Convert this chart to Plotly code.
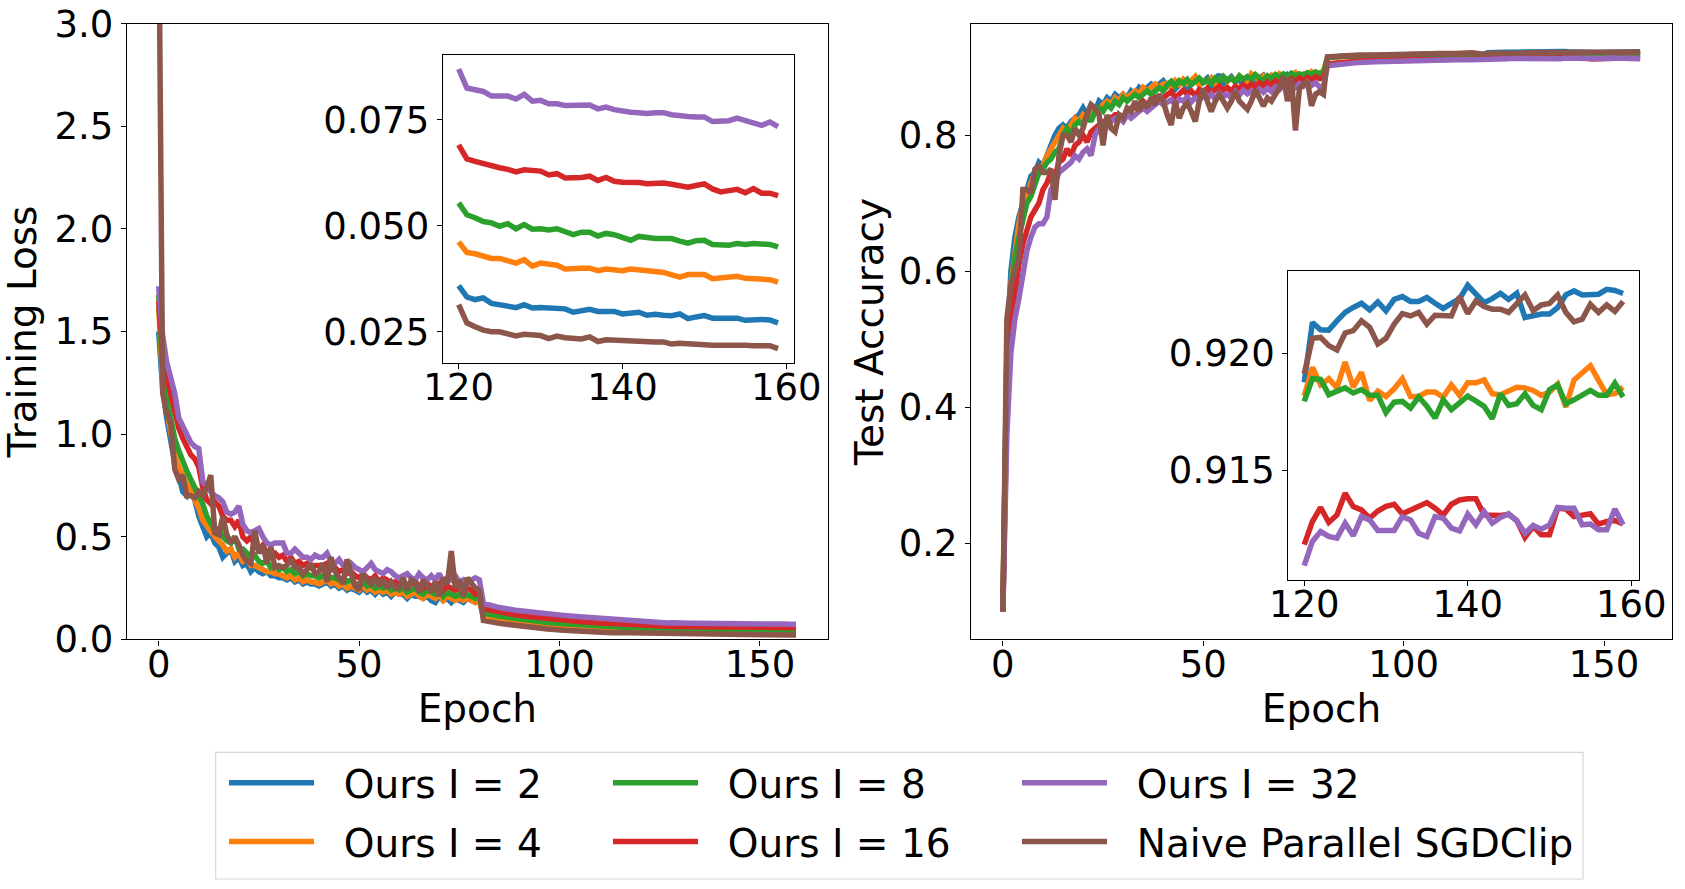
import plotly.graph_objects as go

# epochs: every epoch up to 81, sparse through the smooth stretch, every epoch in the zoomed window
epochs = list(range(0, 82)) + [85, 89, 93, 97, 101, 105, 109, 113, 117] + list(range(120, 160))

names = ["Ours I = 2", "Ours I = 4", "Ours I = 8", "Ours I = 16", "Ours I = 32", "Naive Parallel SGDClip"]
colors = ["#1f77b4", "#ff7f0e", "#2ca02c", "#d62728", "#9467bd", "#8c564b"]

# ---- training loss ----
loss_i2 = [1.50, 1.22, 1.08, 0.95, 0.86, 0.80, 0.72, 0.70, 0.74, 0.68, 0.60,
           0.55, 0.50, 0.52, 0.47, 0.45, 0.40, 0.42, 0.44, 0.38, 0.40,
           0.36, 0.37, 0.33, 0.35, 0.33, 0.32, 0.33, 0.31, 0.31, 0.30,
           0.30, 0.29, 0.30, 0.28, 0.29, 0.27, 0.28, 0.27, 0.27, 0.26,
           0.27, 0.28, 0.26, 0.27, 0.25, 0.26, 0.24, 0.25, 0.24, 0.23,
           0.25, 0.23, 0.24, 0.22, 0.24, 0.22, 0.23, 0.21, 0.23, 0.22,
           0.22, 0.20, 0.22, 0.21, 0.21, 0.20, 0.21, 0.19, 0.18, 0.21,
           0.19, 0.20, 0.18, 0.20, 0.19, 0.18, 0.20, 0.19, 0.18, 0.19,
           0.112, 0.094, 0.081, 0.070, 0.062, 0.055, 0.049, 0.044, 0.040, 0.038,
           0.0359, 0.0332, 0.0326, 0.0330, 0.0317, 0.0313, 0.0310, 0.0307, 0.0314, 0.0306,
           0.0307, 0.0307, 0.0306, 0.0304, 0.0296, 0.0300, 0.0303, 0.0298, 0.0299, 0.0298,
           0.0292, 0.0293, 0.0296, 0.0289, 0.0291, 0.0289, 0.0288, 0.0292, 0.0281, 0.0285,
           0.0288, 0.0282, 0.0282, 0.0282, 0.0282, 0.0277, 0.0279, 0.0279, 0.0278, 0.0271]
loss_i4 = [1.62, 1.25, 1.12, 1.00, 0.90, 0.84, 0.80, 0.75, 0.72, 0.68, 0.64,
           0.58, 0.55, 0.52, 0.50, 0.48, 0.46, 0.43, 0.44, 0.40, 0.42,
           0.38, 0.39, 0.36, 0.36, 0.35, 0.34, 0.33, 0.33, 0.32, 0.32,
           0.31, 0.30, 0.31, 0.29, 0.30, 0.28, 0.29, 0.28, 0.28, 0.27,
           0.28, 0.29, 0.27, 0.28, 0.26, 0.27, 0.25, 0.26, 0.25, 0.24,
           0.26, 0.24, 0.25, 0.23, 0.24, 0.23, 0.24, 0.22, 0.23, 0.22,
           0.23, 0.21, 0.22, 0.23, 0.21, 0.20, 0.22, 0.21, 0.20, 0.22,
           0.19, 0.21, 0.20, 0.19, 0.20, 0.19, 0.20, 0.19, 0.18, 0.19,
           0.115, 0.099, 0.087, 0.078, 0.071, 0.065, 0.059, 0.055, 0.051, 0.048,
           0.0462, 0.0437, 0.0434, 0.0430, 0.0423, 0.0423, 0.0417, 0.0412, 0.0420, 0.0405,
           0.0412, 0.0409, 0.0407, 0.0398, 0.0400, 0.0400, 0.0400, 0.0394, 0.0398, 0.0395,
           0.0394, 0.0398, 0.0395, 0.0393, 0.0392, 0.0390, 0.0386, 0.0379, 0.0385, 0.0384,
           0.0385, 0.0375, 0.0376, 0.0377, 0.0381, 0.0376, 0.0376, 0.0376, 0.0373, 0.0367]
loss_i8 = [1.68, 1.30, 1.18, 1.08, 0.98, 0.92, 0.86, 0.82, 0.78, 0.74, 0.70,
           0.66, 0.60, 0.56, 0.53, 0.54, 0.50, 0.48, 0.47, 0.50, 0.44,
           0.44, 0.42, 0.40, 0.41, 0.38, 0.37, 0.38, 0.35, 0.36, 0.34,
           0.35, 0.33, 0.34, 0.32, 0.33, 0.31, 0.32, 0.31, 0.31, 0.30,
           0.31, 0.32, 0.30, 0.30, 0.29, 0.30, 0.28, 0.29, 0.27, 0.27,
           0.28, 0.26, 0.27, 0.25, 0.26, 0.25, 0.26, 0.24, 0.25, 0.24,
           0.25, 0.23, 0.24, 0.25, 0.23, 0.22, 0.24, 0.23, 0.22, 0.24,
           0.21, 0.23, 0.22, 0.21, 0.22, 0.21, 0.22, 0.21, 0.20, 0.21,
           0.128, 0.112, 0.100, 0.090, 0.082, 0.076, 0.070, 0.065, 0.061, 0.058,
           0.0554, 0.0526, 0.0519, 0.0510, 0.0507, 0.0499, 0.0505, 0.0493, 0.0503, 0.0492,
           0.0493, 0.0490, 0.0493, 0.0485, 0.0479, 0.0485, 0.0485, 0.0476, 0.0482, 0.0479,
           0.0471, 0.0466, 0.0475, 0.0472, 0.0470, 0.0470, 0.0470, 0.0464, 0.0459, 0.0465,
           0.0466, 0.0456, 0.0455, 0.0454, 0.0458, 0.0456, 0.0458, 0.0458, 0.0456, 0.0450]
loss_i16 = [1.65, 1.40, 1.28, 1.20, 1.10, 1.03, 0.98, 0.94, 0.90, 0.88, 0.84,
            0.74, 0.68, 0.66, 0.67, 0.65, 0.60, 0.58, 0.58, 0.55, 0.58,
            0.50, 0.48, 0.50, 0.46, 0.44, 0.46, 0.42, 0.41, 0.42, 0.40,
            0.41, 0.38, 0.40, 0.37, 0.38, 0.36, 0.37, 0.35, 0.36, 0.36,
            0.36, 0.37, 0.34, 0.35, 0.33, 0.34, 0.32, 0.33, 0.31, 0.30,
            0.32, 0.30, 0.29, 0.31, 0.28, 0.30, 0.29, 0.27, 0.28, 0.27,
            0.28, 0.26, 0.27, 0.28, 0.26, 0.25, 0.27, 0.26, 0.25, 0.27,
            0.24, 0.26, 0.25, 0.24, 0.25, 0.23, 0.25, 0.24, 0.22, 0.23,
            0.150, 0.132, 0.120, 0.110, 0.101, 0.094, 0.087, 0.081, 0.076, 0.072,
            0.0691, 0.0658, 0.0652, 0.0646, 0.0640, 0.0637, 0.0633, 0.0627, 0.0632, 0.0629,
            0.0629, 0.0620, 0.0623, 0.0613, 0.0613, 0.0614, 0.0617, 0.0607, 0.0614, 0.0605,
            0.0603, 0.0603, 0.0602, 0.0599, 0.0601, 0.0601, 0.0598, 0.0594, 0.0591, 0.0595,
            0.0599, 0.0587, 0.0580, 0.0583, 0.0586, 0.0578, 0.0588, 0.0577, 0.0577, 0.0571]
loss_i32 = [1.72, 1.48, 1.35, 1.28, 1.20, 1.08, 1.04, 1.00, 0.96, 0.94, 0.93,
            0.77, 0.74, 0.72, 0.70, 0.69, 0.67, 0.62, 0.61, 0.62, 0.65,
            0.56, 0.53, 0.52, 0.53, 0.54, 0.50, 0.47, 0.46, 0.47, 0.47,
            0.47, 0.42, 0.42, 0.44, 0.42, 0.40, 0.40, 0.39, 0.41, 0.40,
            0.40, 0.42, 0.38, 0.37, 0.39, 0.36, 0.35, 0.37, 0.35, 0.34,
            0.33, 0.35, 0.37, 0.34, 0.33, 0.32, 0.34, 0.33, 0.31, 0.30,
            0.31, 0.32, 0.30, 0.29, 0.32, 0.30, 0.29, 0.31, 0.29, 0.32,
            0.28, 0.30, 0.29, 0.31, 0.28, 0.29, 0.27, 0.29, 0.30, 0.29,
            0.175, 0.155, 0.142, 0.132, 0.124, 0.117, 0.110, 0.104, 0.098, 0.092,
            0.0870, 0.0825, 0.0821, 0.0817, 0.0806, 0.0807, 0.0806, 0.0799, 0.0810, 0.0794,
            0.0796, 0.0788, 0.0788, 0.0784, 0.0784, 0.0785, 0.0785, 0.0776, 0.0780, 0.0774,
            0.0770, 0.0768, 0.0767, 0.0765, 0.0767, 0.0767, 0.0762, 0.0759, 0.0758, 0.0757,
            0.0757, 0.0746, 0.0748, 0.0748, 0.0754, 0.0748, 0.0745, 0.0737, 0.0745, 0.0734]
loss_naive = [3.60, 1.20, 1.10, 1.05, 0.83, 0.78, 0.80, 0.70, 0.70, 0.69, 0.72,
              0.70, 0.74, 0.80, 0.52, 0.51, 0.60, 0.51, 0.47, 0.50, 0.46,
              0.41, 0.38, 0.37, 0.53, 0.42, 0.46, 0.37, 0.45, 0.35, 0.36,
              0.35, 0.36, 0.39, 0.35, 0.35, 0.32, 0.34, 0.37, 0.32, 0.33,
              0.37, 0.28, 0.40, 0.33, 0.30, 0.27, 0.39, 0.33, 0.26, 0.24,
              0.32, 0.29, 0.27, 0.30, 0.26, 0.29, 0.25, 0.28, 0.25, 0.25,
              0.30, 0.24, 0.29, 0.28, 0.23, 0.29, 0.26, 0.23, 0.28, 0.21,
              0.30, 0.27, 0.43, 0.25, 0.29, 0.21, 0.30, 0.27, 0.25, 0.24,
              0.092, 0.078, 0.067, 0.058, 0.051, 0.045, 0.040, 0.036, 0.033, 0.032,
              0.0314, 0.0271, 0.0262, 0.0254, 0.0250, 0.0250, 0.0245, 0.0240, 0.0244, 0.0241,
              0.0241, 0.0234, 0.0240, 0.0236, 0.0233, 0.0233, 0.0238, 0.0227, 0.0231, 0.0230,
              0.0228, 0.0226, 0.0225, 0.0226, 0.0226, 0.0226, 0.0221, 0.0223, 0.0221, 0.0221,
              0.0220, 0.0218, 0.0218, 0.0219, 0.0220, 0.0218, 0.0217, 0.0217, 0.0217, 0.0210]

# ---- test accuracy ----
acc_i2 = [0.10, 0.48, 0.60, 0.65, 0.68, 0.70, 0.72, 0.74, 0.745, 0.76, 0.755,
          0.77, 0.79, 0.80, 0.81, 0.815, 0.81, 0.82, 0.825, 0.83, 0.84,
          0.83, 0.845, 0.835, 0.85, 0.845, 0.855, 0.85, 0.86, 0.855, 0.86,
          0.855, 0.865, 0.86, 0.87, 0.865, 0.87, 0.875, 0.87, 0.875, 0.88,
          0.872, 0.878, 0.868, 0.875, 0.880, 0.870, 0.876, 0.882, 0.874, 0.879,
          0.884, 0.872, 0.880, 0.889, 0.876, 0.882, 0.886, 0.878, 0.884, 0.870,
          0.880, 0.886, 0.879, 0.884, 0.888, 0.880, 0.885, 0.878, 0.887, 0.882,
          0.889, 0.884, 0.878, 0.888, 0.883, 0.889, 0.885, 0.890, 0.886, 0.892,
          0.914, 0.916, 0.917, 0.917, 0.918, 0.918, 0.919, 0.919, 0.919, 0.919,
          0.91876, 0.92132, 0.92101, 0.92099, 0.92139, 0.92175, 0.92196, 0.92214, 0.92186, 0.92220,
          0.92182, 0.92231, 0.92243, 0.92222, 0.92222, 0.92239, 0.92214, 0.92192, 0.92214, 0.92234,
          0.92291, 0.92256, 0.92217, 0.92234, 0.92257, 0.92231, 0.92257, 0.92153, 0.92163, 0.92168,
          0.92168, 0.92196, 0.92250, 0.92267, 0.92250, 0.92249, 0.92253, 0.92274, 0.92269, 0.92256]
acc_i4 = [0.10, 0.47, 0.58, 0.63, 0.67, 0.70, 0.71, 0.73, 0.745, 0.75, 0.755,
          0.77, 0.78, 0.79, 0.80, 0.81, 0.805, 0.815, 0.825, 0.82, 0.83,
          0.825, 0.835, 0.84, 0.835, 0.845, 0.85, 0.845, 0.855, 0.85, 0.86,
          0.855, 0.86, 0.865, 0.86, 0.87, 0.865, 0.87, 0.875, 0.87, 0.875,
          0.876, 0.870, 0.880, 0.874, 0.882, 0.876, 0.880, 0.886, 0.874, 0.880,
          0.878, 0.884, 0.876, 0.882, 0.886, 0.879, 0.884, 0.880, 0.887, 0.882,
          0.878, 0.890, 0.884, 0.880, 0.887, 0.883, 0.888, 0.882, 0.890, 0.885,
          0.884, 0.889, 0.892, 0.886, 0.890, 0.887, 0.893, 0.889, 0.891, 0.894,
          0.915, 0.916, 0.917, 0.917, 0.917, 0.918, 0.918, 0.918, 0.918, 0.918,
          0.91817, 0.91940, 0.91865, 0.91891, 0.91852, 0.91962, 0.91855, 0.91919, 0.91798, 0.91838,
          0.91815, 0.91848, 0.91891, 0.91815, 0.91815, 0.91834, 0.91834, 0.91813, 0.91865, 0.91820,
          0.91874, 0.91874, 0.91886, 0.91827, 0.91823, 0.91838, 0.91855, 0.91852, 0.91841, 0.91820,
          0.91834, 0.91869, 0.91770, 0.91886, 0.91919, 0.91947, 0.91884, 0.91823, 0.91827, 0.91855]
acc_i8 = [0.10, 0.45, 0.57, 0.62, 0.65, 0.68, 0.70, 0.71, 0.73, 0.745, 0.75,
          0.76, 0.765, 0.775, 0.78, 0.80, 0.81, 0.80, 0.815, 0.82, 0.815,
          0.83, 0.82, 0.835, 0.84, 0.835, 0.845, 0.84, 0.85, 0.845, 0.855,
          0.85, 0.855, 0.86, 0.855, 0.86, 0.865, 0.86, 0.865, 0.87, 0.865,
          0.874, 0.879, 0.872, 0.880, 0.876, 0.882, 0.874, 0.879, 0.884, 0.877,
          0.881, 0.876, 0.884, 0.879, 0.886, 0.880, 0.884, 0.878, 0.887, 0.882,
          0.886, 0.882, 0.889, 0.884, 0.880, 0.887, 0.883, 0.889, 0.885, 0.890,
          0.886, 0.891, 0.887, 0.890, 0.888, 0.892, 0.889, 0.893, 0.890, 0.892,
          0.914, 0.916, 0.916, 0.917, 0.917, 0.917, 0.918, 0.918, 0.918, 0.918,
          0.91794, 0.91891, 0.91888, 0.91823, 0.91838, 0.91852, 0.91830, 0.91845, 0.91820, 0.91820,
          0.91746, 0.91791, 0.91794, 0.91766, 0.91813, 0.91774, 0.91723, 0.91801, 0.91759, 0.91791,
          0.91817, 0.91796, 0.91773, 0.91720, 0.91827, 0.91777, 0.91784, 0.91827, 0.91777, 0.91759,
          0.91844, 0.91865, 0.91784, 0.91801, 0.91820, 0.91841, 0.91820, 0.91820, 0.91872, 0.91813]
acc_i16 = [0.10, 0.40, 0.52, 0.57, 0.61, 0.64, 0.66, 0.68, 0.69, 0.70, 0.72,
           0.73, 0.745, 0.74, 0.76, 0.765, 0.78, 0.77, 0.785, 0.79, 0.80,
           0.79, 0.805, 0.81, 0.815, 0.82, 0.82, 0.825, 0.83, 0.83, 0.825,
           0.835, 0.84, 0.84, 0.845, 0.85, 0.845, 0.85, 0.855, 0.85, 0.855,
           0.858, 0.864, 0.855, 0.862, 0.866, 0.860, 0.865, 0.858, 0.867, 0.863,
           0.869, 0.862, 0.868, 0.872, 0.866, 0.870, 0.865, 0.872, 0.868, 0.874,
           0.869, 0.875, 0.871, 0.877, 0.872, 0.878, 0.874, 0.880, 0.876, 0.882,
           0.877, 0.883, 0.879, 0.884, 0.880, 0.885, 0.881, 0.886, 0.883, 0.884,
           0.905, 0.908, 0.909, 0.910, 0.910, 0.911, 0.911, 0.912, 0.912, 0.912,
           0.91181, 0.91280, 0.91340, 0.91276, 0.91308, 0.91401, 0.91344, 0.91330, 0.91294, 0.91325,
           0.91345, 0.91354, 0.91313, 0.91330, 0.91344, 0.91361, 0.91337, 0.91308, 0.91354, 0.91372,
           0.91377, 0.91377, 0.91308, 0.91306, 0.91306, 0.91311, 0.91284, 0.91212, 0.91259, 0.91223,
           0.91223, 0.91337, 0.91334, 0.91301, 0.91306, 0.91313, 0.91269, 0.91280, 0.91284, 0.91269]
acc_i32 = [0.10, 0.36, 0.48, 0.53, 0.56, 0.60, 0.63, 0.65, 0.665, 0.67, 0.67,
           0.68, 0.72, 0.73, 0.745, 0.75, 0.755, 0.76, 0.77, 0.765, 0.775,
           0.78, 0.77, 0.80, 0.81, 0.815, 0.82, 0.82, 0.825, 0.825, 0.82,
           0.83, 0.825, 0.83, 0.835, 0.84, 0.835, 0.84, 0.845, 0.85, 0.845,
           0.848, 0.852, 0.845, 0.853, 0.850, 0.856, 0.849, 0.855, 0.851, 0.858,
           0.854, 0.860, 0.853, 0.862, 0.857, 0.860, 0.855, 0.864, 0.859, 0.866,
           0.861, 0.865, 0.860, 0.868, 0.863, 0.869, 0.864, 0.871, 0.867, 0.873,
           0.868, 0.874, 0.870, 0.876, 0.872, 0.878, 0.873, 0.877, 0.871, 0.872,
           0.902, 0.905, 0.907, 0.908, 0.909, 0.909, 0.910, 0.910, 0.911, 0.911,
           0.91091, 0.91195, 0.91237, 0.91216, 0.91209, 0.91273, 0.91219, 0.91301, 0.91287, 0.91242,
           0.91242, 0.91242, 0.91301, 0.91287, 0.91230, 0.91216, 0.91301, 0.91294, 0.91252, 0.91240,
           0.91311, 0.91266, 0.91323, 0.91273, 0.91297, 0.91313, 0.91283, 0.91230, 0.91263, 0.91247,
           0.91266, 0.91340, 0.91337, 0.91337, 0.91266, 0.91269, 0.91245, 0.91245, 0.91334, 0.91266]
acc_naive = [0.10, 0.53, 0.58, 0.60, 0.62, 0.72, 0.72, 0.715, 0.75, 0.755, 0.745,
             0.745, 0.75, 0.705, 0.77, 0.80, 0.80, 0.79, 0.81, 0.80, 0.81,
             0.83, 0.845, 0.84, 0.83, 0.785, 0.83, 0.81, 0.805, 0.83, 0.825,
             0.84, 0.835, 0.85, 0.835, 0.85, 0.84, 0.855, 0.845, 0.86, 0.85,
             0.83, 0.815, 0.85, 0.825, 0.84, 0.847, 0.835, 0.82, 0.85, 0.869,
             0.85, 0.835, 0.85, 0.86, 0.85, 0.84, 0.85, 0.864, 0.85, 0.845,
             0.838, 0.85, 0.867, 0.855, 0.843, 0.855, 0.85, 0.86, 0.87, 0.887,
             0.85, 0.884, 0.807, 0.869, 0.875, 0.879, 0.843, 0.86, 0.864, 0.86,
             0.915, 0.917, 0.918, 0.918, 0.919, 0.919, 0.920, 0.920, 0.920, 0.921,
             0.91912, 0.92064, 0.92068, 0.92033, 0.92014, 0.92087, 0.92097, 0.92139, 0.92111, 0.92040,
             0.92064, 0.92125, 0.92170, 0.92160, 0.92175, 0.92125, 0.92163, 0.92160, 0.92160, 0.92243,
             0.92170, 0.92224, 0.92200, 0.92189, 0.92189, 0.92175, 0.92217, 0.92250, 0.92182, 0.92207,
             0.92213, 0.92249, 0.92175, 0.92135, 0.92146, 0.92210, 0.92175, 0.92207, 0.92179, 0.92222]

loss_all = [loss_i2, loss_i4, loss_i8, loss_i16, loss_i32, loss_naive]
acc_all = [acc_i2, acc_i4, acc_i8, acc_i16, acc_i32, acc_naive]
legend_col = ["legend", "legend", "legend2", "legend2", "legend3", "legend3"]

FONT = "DejaVu Sans"
W, H = 1685, 889
LW = 5.5
n_zoom = 40  # last 40 epochs go into the insets
PAD = "\u00a0\u00a0"  # gap between legend line and label, like matplotlib's handletextpad


def fx(px):
    return px / W


def fy(py):
    return 1 - py / H


fig = go.Figure()
for i in range(6):
    line = dict(color=colors[i], width=LW)
    fig.add_trace(go.Scatter(x=epochs, y=loss_all[i], mode="lines", line=line, name=PAD + names[i],
                             legend=legend_col[i], legendgroup=names[i], xaxis="x", yaxis="y"))
    fig.add_trace(go.Scatter(x=epochs, y=acc_all[i], mode="lines", line=line, name=names[i],
                             legendgroup=names[i], showlegend=False, xaxis="x2", yaxis="y2"))
    fig.add_trace(go.Scatter(x=epochs[-n_zoom:], y=loss_all[i][-n_zoom:], mode="lines", line=line,
                             legendgroup=names[i], showlegend=False, xaxis="x3", yaxis="y3"))
    fig.add_trace(go.Scatter(x=epochs[-n_zoom:], y=acc_all[i][-n_zoom:], mode="lines", line=line,
                             legendgroup=names[i], showlegend=False, xaxis="x4", yaxis="y4"))


def ax(domain, rng, tickvals, fmt, anchor, title=None, xdir=False, standoff=6):
    d = dict(domain=domain, range=rng, tickvals=tickvals, tickformat=fmt, anchor=anchor,
             showline=True, linecolor="black", linewidth=1.2, mirror=True,
             ticks="outside", ticklen=5, tickwidth=1.2, tickcolor="black",
             showgrid=False, zeroline=False, automargin=False, ticklabeloverflow="allow",
             tickfont=dict(family=FONT, size=37, color="black"))
    if xdir:
        d["ticklabelstandoff"] = -13
    if title:
        d["title"] = dict(text=title, font=dict(family=FONT, size=39, color="black"), standoff=standoff)
    return d


leg = dict(xanchor="left", yanchor="top", bgcolor="rgba(0,0,0,0)", borderwidth=0,
           font=dict(family=FONT, size=39, color="black"), tracegroupgap=5, itemwidth=85)
leg_top = fy(751)

fig.update_layout(
    width=W, height=H,
    margin=dict(l=0, r=0, t=0, b=0),
    paper_bgcolor="white", plot_bgcolor="white",
    showlegend=True,
    xaxis=ax([fx(126.8), fx(827.9)], [-7.95, 166.95], [0, 50, 100, 150], "d", "y", "Epoch", True),
    yaxis=ax([fy(639.4), fy(23.6)], [0, 3.0], [0, 0.5, 1.0, 1.5, 2.0, 2.5, 3.0], ".1f", "x",
             "Training Loss", standoff=10),
    xaxis2=ax([fx(971), fx(1672)], [-7.95, 166.95], [0, 50, 100, 150], "d", "y2", "Epoch", True),
    yaxis2=ax([fy(639.4), fy(23.6)], [0.0589, 0.9640], [0.2, 0.4, 0.6, 0.8], ".1f", "x2",
              "Test Accuracy", standoff=3),
    xaxis3=ax([fx(442.7), fx(794)], [118.05, 160.95], [120, 140, 160], "d", "y3", None, True),
    yaxis3=ax([fy(362.7), fy(55)], [0.0177, 0.0903], [0.025, 0.050, 0.075], ".3f", "x3"),
    xaxis4=ax([fx(1288.3), fx(1639)], [118.05, 160.95], [120, 140, 160], "d", "y4", None, True),
    yaxis4=ax([fy(579.7), fy(271.3)], [0.91031, 0.92351], [0.915, 0.920], ".3f", "x4"),
    legend=dict(leg, x=fx(224), y=leg_top),
    legend2=dict(leg, x=fx(608), y=leg_top),
    legend3=dict(leg, x=fx(1017), y=leg_top),
    shapes=[dict(type="rect", xref="paper", yref="paper",
                 x0=fx(215.7), x1=fx(1583), y0=fy(879), y1=fy(752.3),
                 line=dict(color="#d5d5d5", width=1.2), fillcolor="rgba(0,0,0,0)", layer="below")],
)

# drop the browser's default body margin so the figure fills the window exactly
fig.write_html("out.html", config={"displayModeBar": False},
               post_script="document.body.style.margin='0';document.body.style.overflow='hidden';")
